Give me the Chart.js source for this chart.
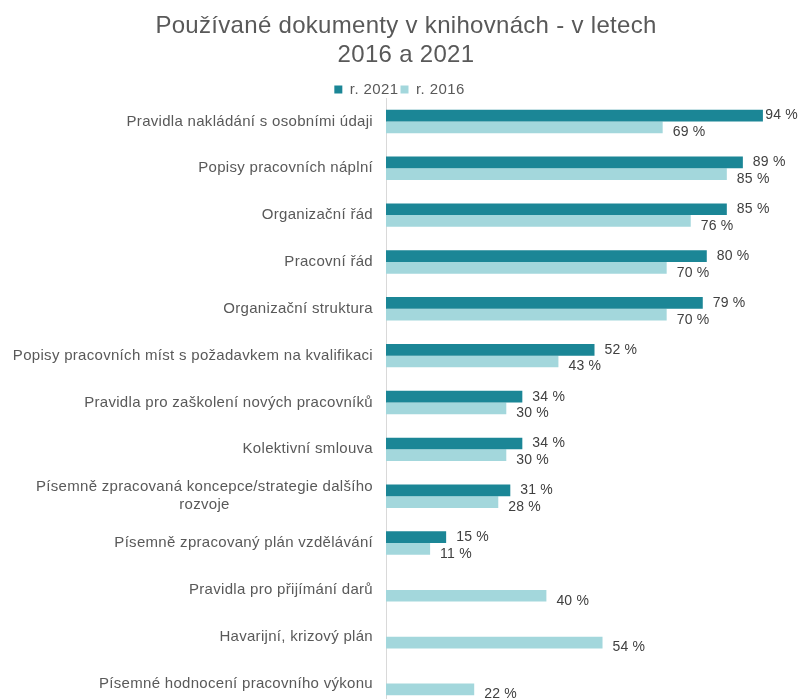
<!DOCTYPE html>
<html lang="cs">
<head>
  <meta charset="UTF-8" />
  <title>Používané dokumenty v knihovnách</title>
  <script src="https://cdn.jsdelivr.net/npm/chart.js"></script>
  <style>
    html, body { margin: 0; padding: 0; background: #fff; overflow: hidden; }
    .wrap { width: 799px; height: 712px; }
  </style>
</head>
<body>
  <div class="wrap"><canvas id="barChart" width="799" height="712"></canvas></div>

  <script>
    const chartTitle = ["Používané dokumenty v knihovnách - v letech", "2016 a 2021"];
    const categories = [
      "Pravidla nakládání s osobními údaji",
      "Popisy pracovních náplní",
      "Organizační řád",
      "Pracovní řád",
      "Organizační struktura",
      "Popisy pracovních míst s požadavkem na kvalifikaci",
      "Pravidla pro zaškolení nových pracovníků",
      "Kolektivní smlouva",
      ["Písemně zpracovaná koncepce/strategie dalšího", "rozvoje"],
      "Písemně zpracovaný plán vzdělávání",
      "Pravidla pro přijímání darů",
      "Havarijní, krizový plán",
      "Písemné hodnocení pracovního výkonu"
    ];
    const values2021 = [94, 89, 85, 80, 79, 52, 34, 34, 31, 15, null, null, null];
    const values2016 = [69, 85, 76, 70, 70, 43, 30, 30, 28, 11, 40, 54, 22];

    const textColor = "#595959";
    const fontFamily = "'Liberation Sans', Arial, sans-serif";
    const axisLeft = 386;

    // the source chart's text runs a little wide, so space letters slightly everywhere
    const wideText = {
      id: "wideText",
      beforeUpdate(chart) { chart.ctx.letterSpacing = "0.4px"; },
      beforeDraw(chart) { chart.ctx.letterSpacing = "0.4px"; }
    };

    // title drawn by hand (it sits a bit right of centre in the original)
    const titleText = {
      id: "titleText",
      afterDraw(chart) {
        const ctx = chart.ctx;
        ctx.save();
        ctx.font = "24px " + fontFamily;
        ctx.letterSpacing = "0.3px";
        ctx.fillStyle = textColor;
        ctx.textAlign = "center";
        ctx.textBaseline = "alphabetic";
        chartTitle.forEach((t, k) => ctx.fillText(t, 406, 33 + k * 29));
        ctx.restore();
      }
    };

    // category labels drawn by hand so a two-line label can be centred under itself
    const categoryLabels = {
      id: "categoryLabels",
      afterDraw(chart) {
        const ctx = chart.ctx;
        const y = chart.scales.y;
        ctx.save();
        ctx.font = "15px " + fontFamily;
        ctx.letterSpacing = "0.3px";
        ctx.fillStyle = textColor;
        ctx.textBaseline = "middle";
        categories.forEach((lab, i) => {
          const cy = y.getPixelForTick(i);
          const right = axisLeft - 13;
          if (Array.isArray(lab)) {
            const w = Math.max(...lab.map(l => ctx.measureText(l).width));
            const cx = right - w / 2;
            ctx.textAlign = "center";
            const lh = 18;
            lab.forEach((l, k) => {
              ctx.fillText(l, cx, cy + (k - (lab.length - 1) / 2) * lh);
            });
          } else {
            ctx.textAlign = "right";
            ctx.fillText(lab, right, cy);
          }
        });
        ctx.restore();
      }
    };

    // value labels at the end of each bar
    const valueLabels = {
      id: "valueLabels",
      afterDatasetsDraw(chart) {
        const ctx = chart.ctx;
        ctx.save();
        ctx.font = "14px " + fontFamily;
        ctx.letterSpacing = "0.2px";
        ctx.fillStyle = "#404040";
        ctx.textAlign = "left";
        ctx.textBaseline = "middle";
        chart.data.datasets.forEach((ds, di) => {
          const meta = chart.getDatasetMeta(di);
          meta.data.forEach((bar, i) => {
            const v = ds.data[i];
            if (v === null) return;
            const txt = v + " %";
            const w = ctx.measureText(txt).width;
            const x = Math.min(bar.x + 10, chart.width - w - 1);
            const dy = di === 0 ? 0 : 5;
            ctx.fillText(txt, x, bar.y + dy);
          });
        });
        ctx.restore();
      }
    };

    new Chart(document.getElementById("barChart"), {
      type: "bar",
      data: {
        labels: categories,
        datasets: [
          {
            label: "r. 2021",
            data: values2021,
            backgroundColor: "#1b8696",
            categoryPercentage: 0.5,
            barPercentage: 1.0
          },
          {
            label: "r. 2016",
            data: values2016,
            backgroundColor: "#a3d7dc",
            categoryPercentage: 0.5,
            barPercentage: 1.0
          }
        ]
      },
      options: {
        indexAxis: "y",
        responsive: false,
        animation: false,
        layout: { padding: { left: 0, right: 0, top: 80, bottom: 5 } },
        plugins: {
          title: { display: false },
          legend: {
            display: true,
            maxHeight: 18,
            labels: {
              color: textColor,
              font: { family: fontFamily, size: 15 },
              boxWidth: 8,
              boxHeight: 8,
              padding: 2
            }
          },
          tooltip: { enabled: false }
        },
        scales: {
          x: {
            display: false,
            min: 0,
            max: 103
          },
          y: {
            grid: { display: false },
            border: { display: true, color: "#d9d9d9" },
            ticks: { display: false },
            afterFit(scale) { scale.width = axisLeft; }
          }
        }
      },
      plugins: [wideText, titleText, categoryLabels, valueLabels]
    });
  </script>
</body>
</html>
